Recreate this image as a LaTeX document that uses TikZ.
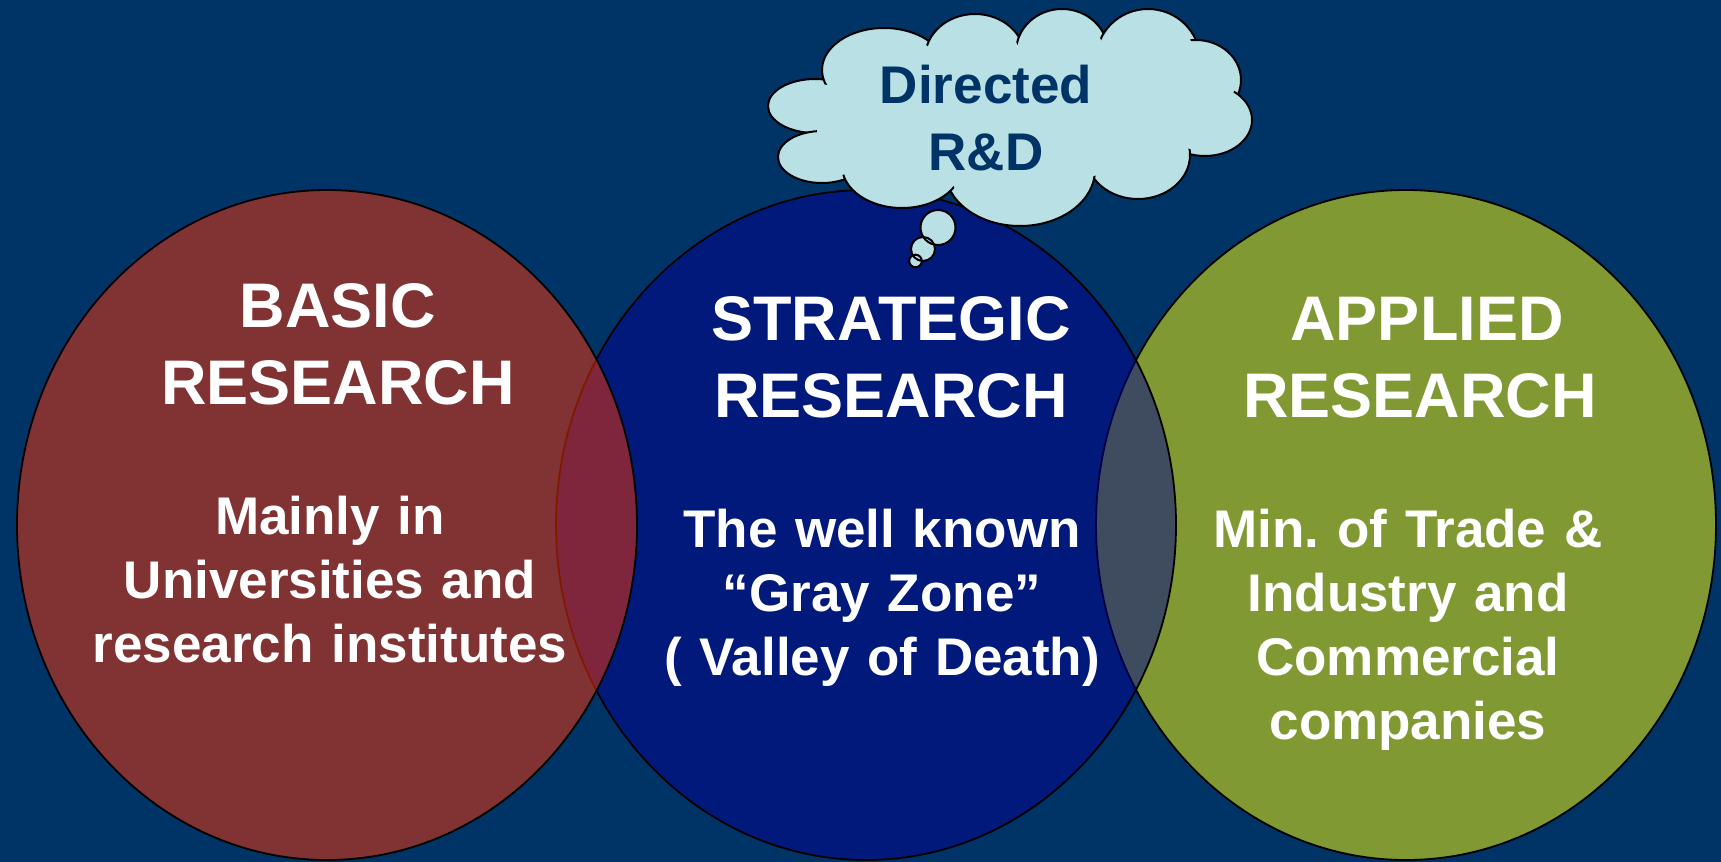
\documentclass[tikz,border=0pt]{standalone}
\usepackage{fontspec}
\setmainfont{Liberation Sans}
\usepackage{tikz}
\frenchspacing

\definecolor{bgblue}{RGB}{0,51,102}
\definecolor{basicred}{RGB}{255,51,0}
\definecolor{stratblue}{RGB}{0,0,142}
\definecolor{appliedyellow}{RGB}{255,255,0}
\definecolor{cloudfill}{RGB}{185,224,228}

\def\cloudlobes{815/106/47/27, 822/157/44/26, 884/70/62/42, 975/58/50/44,
  1062/52/46/43, 1148/60/52/51, 1196/80/45/40, 1205/120/47/36,
  1138/155/52/44, 1020/170/75/56, 902/166/60/42}

\begin{document}
\begin{tikzpicture}[x=0.5pt, y=-0.5pt,
  venn/.style={draw=black, line width=0.9pt, fill opacity=0.5},
  lobe/.style={fill=cloudfill, draw=black, line width=1pt},
  headnode/.style={text=white, font=\bfseries\fontsize{31.5pt}{38.5pt}\selectfont,
    align=center, text width=340pt, anchor=base, inner sep=0pt},
  bodynode/.style={text=white, font=\bfseries\fontsize{26.5pt}{32pt}\selectfont,
    align=center, text width=300pt, anchor=base, inner sep=0pt},
  cloudnode/.style={text=bgblue, font=\bfseries\fontsize{26.5pt}{33.5pt}\selectfont,
    align=center, text width=200pt, anchor=base, inner sep=0pt}
  ]
  \useasboundingbox (0,0) rectangle (1721,862);
  \fill[bgblue] (0,0) rectangle (1721,862);

  % Circles
  \draw[venn, fill=appliedyellow] (1406,525) ellipse [x radius=310, y radius=335];
  \draw[venn, fill=stratblue] (866,525) ellipse [x radius=310, y radius=335];
  \draw[venn, fill=basicred] (327,525) ellipse [x radius=310, y radius=335];

  % Nodes
  \node[headnode] (basic) at (338,327) {BASIC\\RESEARCH};
  \node[bodynode] (basictxt) at (330,534) {Mainly in\\Universities and\\research institutes};
  \node[headnode] (strategic) at (891,340) {STRATEGIC\\RESEARCH};
  \node[bodynode] (strategictxt) at (882,547) {The well known\\“Gray Zone”\\( Valley of Death)};
  \node[headnode] (applied) at (1420,340) {\hspace*{7pt}APPLIED\\RESEARCH};
  \node[bodynode] (appliedtxt) at (1408,547) {Min. of Trade \&\\Industry and\\Commercial\\companies};

  % Cloud
  \foreach \cx/\cy/\rx/\ry in \cloudlobes
    \draw[lobe] (\cx,\cy) ellipse [x radius=\rx, y radius=\ry];
  \foreach \cx/\cy/\rx/\ry in \cloudlobes
    \fill[cloudfill] (\cx,\cy) ellipse [x radius=\rx-5, y radius=\ry-5];
  \fill[cloudfill] (1010,115) ellipse [x radius=170, y radius=70];
  \fill[cloudfill] (845,131) ellipse [x radius=28, y radius=16];
  \foreach \bx/\by/\br in {938/227.5/17.5, 923/249/12, 915.5/261/6.3}
    \fill[cloudfill] (\bx,\by) circle [radius=\br];
  \foreach \bx/\by/\br in {938/227.5/17.5, 923/249/12, 915.5/261/6.3}
    \draw[line width=1pt] (\bx,\by) circle [radius=\br];
  \node[cloudnode] (directed) at (986,103) {Directed\\R\&D};

\end{tikzpicture}
\end{document}
